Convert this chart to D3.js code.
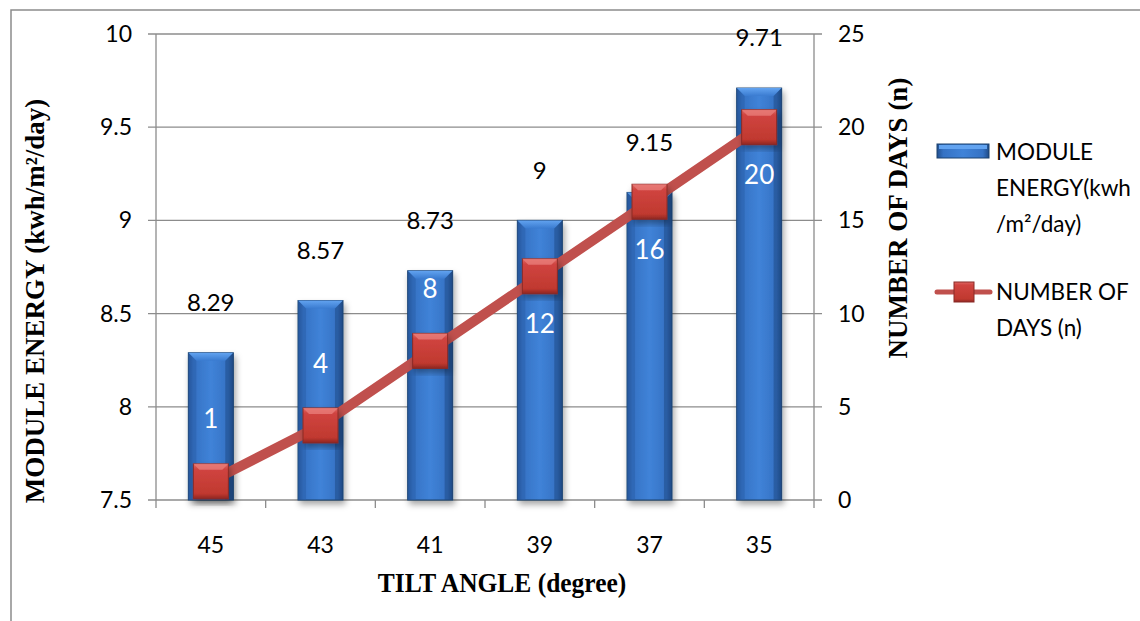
<!DOCTYPE html>
<html><head><meta charset="utf-8">
<script src="https://cdn.jsdelivr.net/npm/d3@7"></script>
<style>body{margin:0;background:#fff}svg{display:block}</style>
</head><body>
<script>
const categories = ["45","43","41","39","37","35"];
const energy = [8.29, 8.57, 8.73, 9, 9.15, 9.71];
const days = [1, 4, 8, 12, 16, 20];
const leftTicks = [7.5, 8, 8.5, 9, 9.5, 10];
const rightTicks = [0, 5, 10, 15, 20, 25];

const W = 1140, H = 621;
const m = {l:156, r:326, t:34, b:121};
const svg = d3.select("body").append("svg").attr("width", W).attr("height", H);
const defs = svg.append("defs");

const bg = defs.append("linearGradient").attr("id","barG").attr("x1","0").attr("x2","1").attr("y1","0").attr("y2","0");
[[0,"#214f8f"],[0.12,"#3572c4"],[0.5,"#4083d8"],[0.88,"#3572c4"],[1,"#1f4b87"]].forEach(s=>bg.append("stop").attr("offset",s[0]).attr("stop-color",s[1]));
const bt = defs.append("linearGradient").attr("id","barTop").attr("x1","0").attr("x2","0").attr("y1","0").attr("y2","1");
[[0,"#62a3f0"],[1,"#3a7bd0"]].forEach(s=>bt.append("stop").attr("offset",s[0]).attr("stop-color",s[1]));
const mg = defs.append("linearGradient").attr("id","mkG").attr("x1","0").attr("x2","0").attr("y1","0").attr("y2","1");
[[0,"#e06a66"],[0.15,"#d04440"],[0.85,"#c0392f"],[1,"#8e2622"]].forEach(s=>mg.append("stop").attr("offset",s[0]).attr("stop-color",s[1]));
const flt = defs.append("filter").attr("id","sh").attr("x","-30%").attr("y","-10%").attr("width","160%").attr("height","130%");
flt.append("feDropShadow").attr("dx",2).attr("dy",4).attr("stdDeviation",3).attr("flood-color","#000").attr("flood-opacity",0.35);

// outer frame
svg.append("path").attr("d",`M11,${H} L11,10 L${W},10`).attr("fill","none").attr("stroke","#8c8c8c").attr("stroke-width",1.5);

const x = d3.scaleBand().domain(categories).range([m.l, W-m.r]).paddingInner(0.59).paddingOuter(0.295);
const y = d3.scaleLinear().domain([7.5,10]).range([H-m.b, m.t]);
const y2 = d3.scaleLinear().domain([0,25]).range([H-m.b, m.t]);
const x0 = m.l, x1 = W-m.r;

// gridlines
svg.append("g").selectAll("line").data(leftTicks).join("line")
  .attr("x1",x0-8).attr("x2",x1+8).attr("y1",d=>y(d)).attr("y2",d=>y(d))
  .attr("stroke","#8c8c8c").attr("stroke-width",1.3);
svg.append("line").attr("x1",x0).attr("x2",x0).attr("y1",m.t).attr("y2",H-m.b).attr("stroke","#8c8c8c").attr("stroke-width",1.3);
svg.append("line").attr("x1",x1).attr("x2",x1).attr("y1",m.t).attr("y2",H-m.b).attr("stroke","#8c8c8c").attr("stroke-width",1.3);
// bottom ticks at category boundaries
const bounds = d3.range(categories.length+1).map(i=>x0 + i*(x1-x0)/categories.length);
svg.append("g").selectAll("line").data(bounds).join("line")
  .attr("x1",d=>d).attr("x2",d=>d).attr("y1",H-m.b).attr("y2",H-m.b+8).attr("stroke","#8c8c8c").attr("stroke-width",1.3);

const tf = "Lato, 'Open Sans', sans-serif";
svg.append("g").selectAll("text").data(leftTicks).join("text")
  .attr("x",x0-24).attr("y",d=>y(d)).attr("dy","0.35em").attr("text-anchor","end")
  .attr("font-family",tf).attr("font-size",23).text(d=>d);
svg.append("g").selectAll("text").data(rightTicks).join("text")
  .attr("x",x1+24).attr("y",d=>y2(d)).attr("dy","0.35em").attr("text-anchor","start")
  .attr("font-family",tf).attr("font-size",23).text(d=>d);
svg.append("g").selectAll("text").data(categories).join("text")
  .attr("x",d=>x(d)+x.bandwidth()/2).attr("y",545).attr("dy","0.35em").attr("text-anchor","middle")
  .attr("font-family",tf).attr("font-size",23).text(d=>d);

// bars
const bars = svg.append("g").selectAll("g").data(categories).join("g");
const bw = x.bandwidth();
bars.append("rect").attr("x",d=>x(d)).attr("y",(d,i)=>y(energy[i])).attr("width",bw).attr("height",(d,i)=>y(7.5)-y(energy[i]))
  .attr("fill","url(#barG)").attr("stroke","#1c426f").attr("stroke-width",1).attr("filter","url(#sh)");
bars.append("path").attr("d",(d,i)=>{const X=x(d),Y=y(energy[i]);return `M${X},${Y} L${X+bw},${Y} L${X+bw-8},${Y+8} L${X+8},${Y+8} Z`;})
  .attr("fill","url(#barTop)");
bars.append("path").attr("d",(d,i)=>{const X=x(d),Y=y(energy[i]);return `M${X},${Y} L${X+8},${Y+8} L${X+8},${y(7.5)} L${X},${y(7.5)} Z`;})
  .attr("fill","#2a5ea8").attr("opacity",0.5);
bars.append("path").attr("d",(d,i)=>{const X=x(d),Y=y(energy[i]);return `M${X+bw},${Y} L${X+bw-8},${Y+8} L${X+bw-8},${y(7.5)} L${X+bw},${y(7.5)} Z`;})
  .attr("fill","#1d4782").attr("opacity",0.5);

// bar value labels
svg.append("g").selectAll("text").data(categories).join("text")
  .attr("x",d=>x(d)+bw/2).attr("y",(d,i)=>y(energy[i])-50).attr("dy","0.35em").attr("text-anchor","middle")
  .attr("font-family",tf).attr("font-size",24).attr("fill","#000").text((d,i)=>energy[i]);

// line
const cx = d=>x(d)+bw/2;
svg.append("path").datum(categories).attr("fill","none").attr("stroke","#c0504d").attr("stroke-width",10)
  .attr("d", d3.line().x(d=>cx(d)).y((d,i)=>y2(days[i])));
const ms = 35;
const mk = svg.append("g").selectAll("g").data(categories).join("g")
  .attr("transform",(d,i)=>`translate(${cx(d)},${y2(days[i])})`);
mk.append("rect").attr("x",-ms/2).attr("y",-ms/2).attr("width",ms).attr("height",ms).attr("fill","url(#mkG)")
  .attr("stroke","#8a2a26").attr("stroke-width",1).attr("filter","url(#sh)");
mk.append("path").attr("d",`M${-ms/2},${-ms/2} L${ms/2},${-ms/2} L${ms/2-6},${-ms/2+6} L${-ms/2+6},${-ms/2+6} Z`).attr("fill","#e87c78").attr("opacity",0.8);

// day labels
svg.append("g").selectAll("text").data(categories).join("text")
  .attr("x",d=>cx(d)).attr("y",(d,i)=>y2(days[i]) + (days[i]<10 ? -62 : 48)).attr("dy","0.35em").attr("text-anchor","middle")
  .attr("font-family",tf).attr("font-size",26).attr("fill","#fff").text((d,i)=>days[i]);

// axis titles
const af = "'Liberation Serif', 'Times New Roman', serif";
svg.append("text").attr("transform","translate(44,301) rotate(-90)").attr("text-anchor","middle")
  .attr("font-family",af).attr("font-weight","bold").attr("font-size",27).text("MODULE ENERGY (kwh/m²/day)");
svg.append("text").attr("transform","translate(907,218) rotate(-90)").attr("text-anchor","middle")
  .attr("font-family",af).attr("font-weight","bold").attr("font-size",27).text("NUMBER OF DAYS (n)");
svg.append("text").attr("transform","translate(502,592) scale(0.91,1)").attr("text-anchor","middle")
  .attr("font-family",af).attr("font-weight","bold").attr("font-size",28).text("TILT ANGLE (degree)");

// legend
const lg = svg.append("g");
lg.append("rect").attr("x",937).attr("y",144).attr("width",52).attr("height",14).attr("fill","url(#barG)").attr("stroke","#1c426f");
lg.append("rect").attr("x",939).attr("y",145).attr("width",48).attr("height",4).attr("fill","#62a3f0");
["MODULE","ENERGY(kwh","/m²/day)"].forEach((t,i)=>lg.append("text").attr("x",996).attr("y",152+i*36).attr("dy","0.35em")
  .attr("font-family",tf).attr("font-size",22.5).text(t));
lg.append("line").attr("x1",937).attr("x2",990).attr("y1",292).attr("y2",292).attr("stroke","#c0504d").attr("stroke-width",5).attr("stroke-linecap","round");
lg.append("rect").attr("x",954).attr("y",282).attr("width",20).attr("height",20).attr("fill","url(#mkG)").attr("stroke","#8a2a26");
["NUMBER OF","DAYS (n)"].forEach((t,i)=>lg.append("text").attr("x",996).attr("y",292+i*36).attr("dy","0.35em")
  .attr("font-family",tf).attr("font-size",22.5).text(t));
</script>
</body></html>
